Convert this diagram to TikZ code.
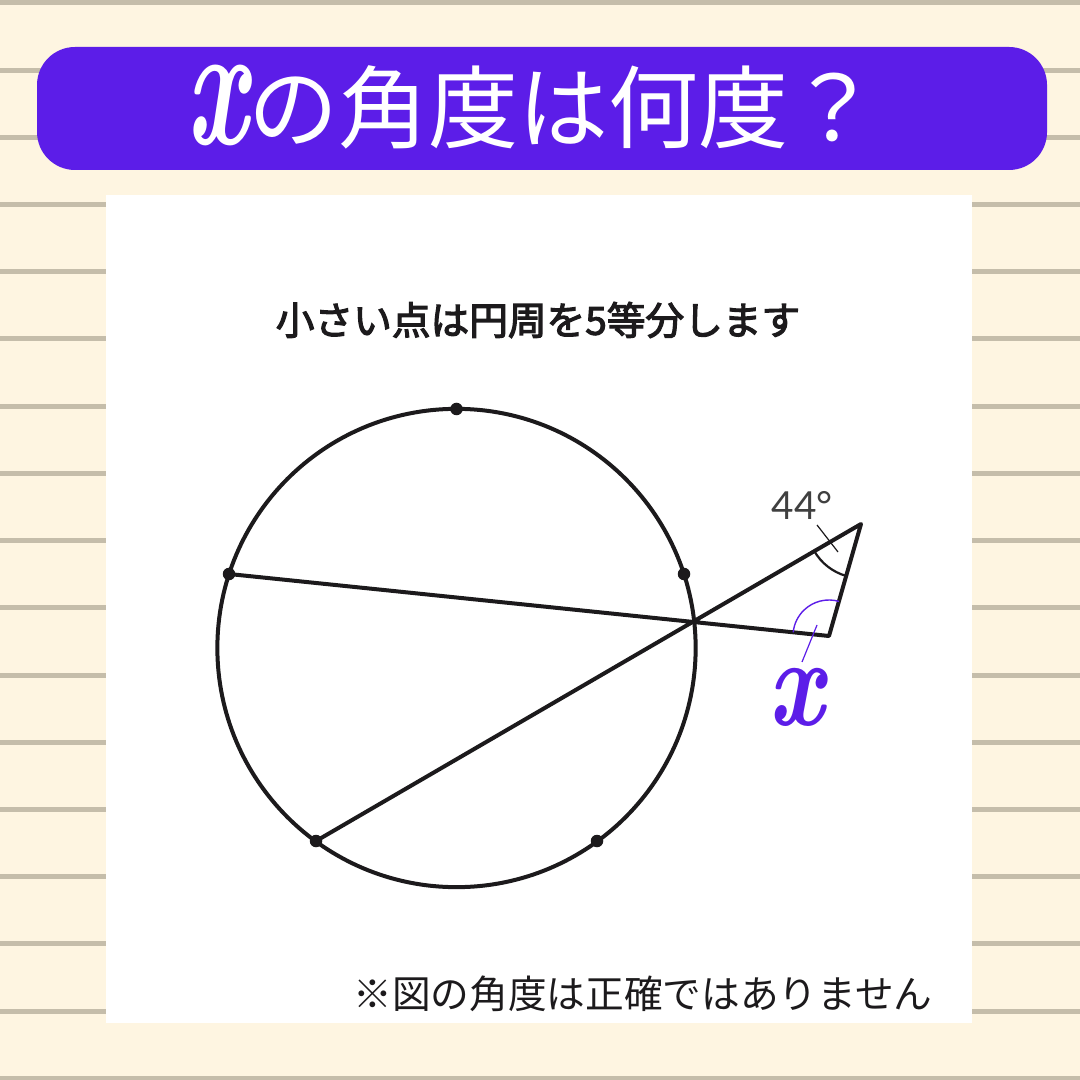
\documentclass[tikz,border=0pt]{standalone}
\usepackage{fontspec}
\usetikzlibrary{angles}
\newfontfamily\jp{Noto Sans CJK JP}
\newfontfamily\jpm[FakeBold=3]{Noto Sans CJK JP}
\newfontfamily\lat{Lato}
\definecolor{cream}{RGB}{254,245,225}
\definecolor{rule}{RGB}{197,189,170}
\definecolor{violet}{RGB}{92,29,232}
\definecolor{ink}{RGB}{28,26,28}
\begin{document}
\begin{tikzpicture}[x=0.01cm,y=-0.01cm,
  geo/.style={draw=ink,line width=0.04cm,line cap=round,line join=round},
  dotmark/.style={circle,fill=ink,inner sep=0pt,minimum size=0.125cm},
  thin/.style={line width=0.012cm}]
\useasboundingbox (0,0) rectangle (1080,1080);
\fill[cream] (0,0) rectangle (1080,1080);
\foreach \k in {0,...,16}{
  \draw[rule,line width=0.05cm] (0,{3+67.2*\k}) -- (1080,{3+67.2*\k});
}
\fill[white] (106,195) rectangle (972,1023);
\fill[violet,rounded corners=0.38cm] (37,47) rectangle (1047,170);
\node[text=white,inner sep=0pt,xscale=0.62] (tx) at (217,105) {\fontsize{50}{50}\selectfont\bfseries\itshape x};
\node[text=white,inner sep=0pt,anchor=west] (title) at (248,107) {\jp\fontsize{25.6}{26}\selectfont の角度は何度？};
\node[text=ink,inner sep=0pt] (sub) at (538,320) {\jpm\fontsize{11}{12}\selectfont 小さい点は円周を5等分します};
\node[text=ink,inner sep=0pt] (note) at (643,994) {\jp\fontsize{11}{12}\selectfont ※図の角度は正確ではありません};
% circle
\coordinate (O) at (456.5,648);
\draw[geo] (O) circle (2.39cm);
\coordinate (T) at (456.5,409);
\coordinate (L) at (229,574);
\coordinate (R) at (684,574);
\coordinate (P) at (316,841);
\coordinate (Q) at (597,841);
\coordinate (A) at (861,524);
\coordinate (B) at (829,636);
\draw[geo] (L) -- (B) -- (A) -- (P);
\foreach \p in {T,L,R,P,Q} \node[dotmark] at (\p) {};
% angles
\pic[draw=ink,line width=0.022cm,angle radius=0.54cm] {angle=P--A--B};
\pic[draw=violet,line width=0.014cm,angle radius=0.36cm] {angle=A--B--L};
\coordinate (t1) at (817,525); \coordinate (t2) at (838,552);
\draw[ink,thin] (t1) -- (t2);
\coordinate (u1) at (817,625); \coordinate (u2) at (802,662);
\draw[violet,thin] (u1) -- (u2);
\node[text=black!75,inner sep=0pt] (deg) at (802,505) {\lat\fontsize{11}{12}\selectfont 44°};
\node[text=violet,inner sep=0pt,xscale=0.78] (vx) at (796,697) {\fontsize{36}{36}\selectfont\bfseries\itshape x};
\end{tikzpicture}
\end{document}
